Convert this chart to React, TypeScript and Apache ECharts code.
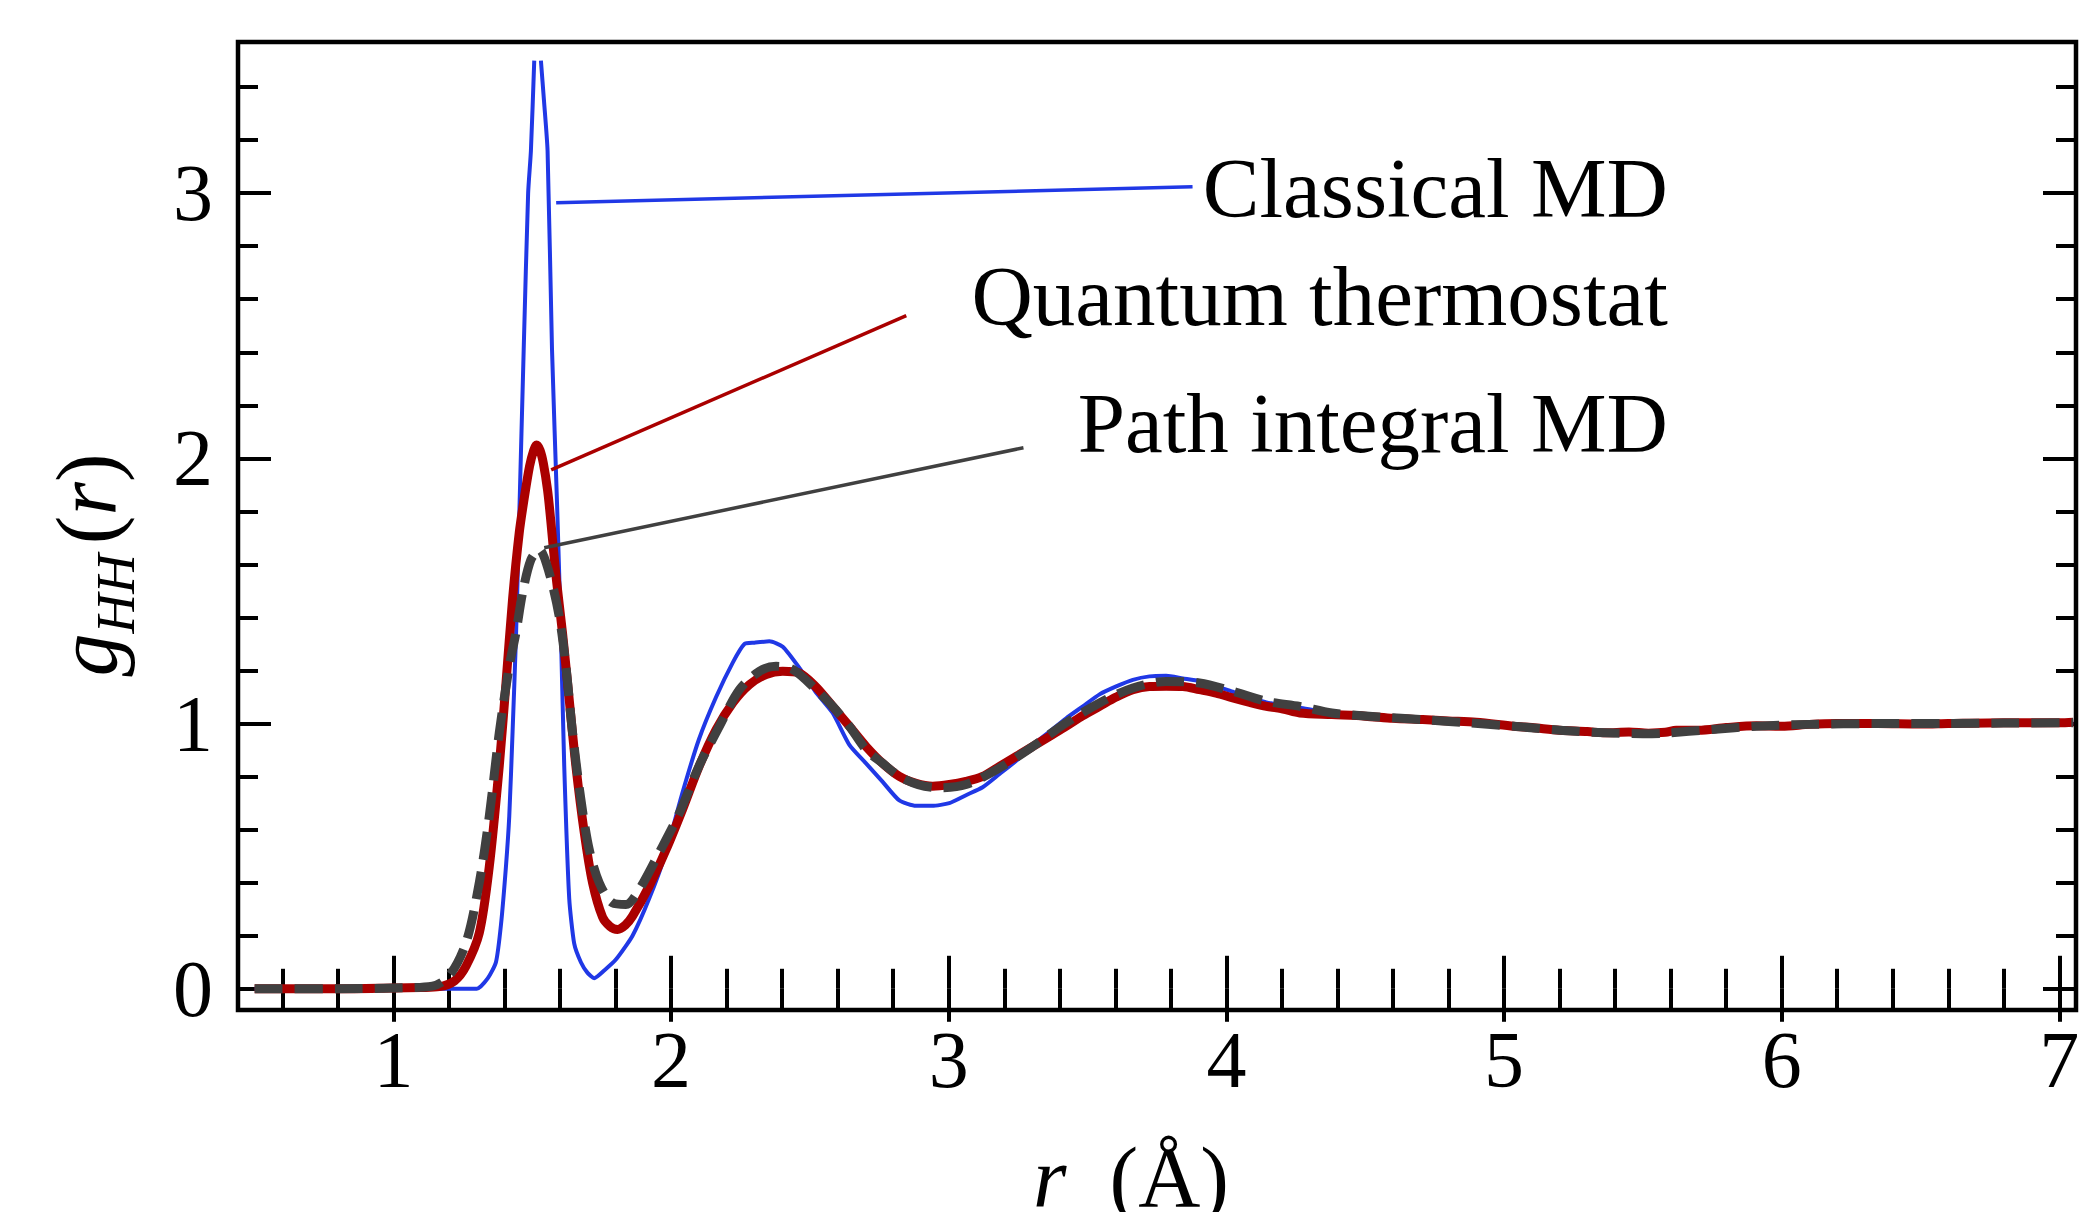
import React, { useEffect, useRef } from 'react';
import * as echarts from 'echarts';

// ---- axis ranges & ticks ----
const X_MIN = 0.44;
const X_MAX = 7.06;
const Y_MIN = -0.08;
const Y_MAX = 3.57;

const xMajorTicks = [1, 2, 3, 4, 5, 6, 7];
const xMinorTicks = [0.6, 0.8, 1.2, 1.4, 1.6, 1.8, 2.2, 2.4, 2.6, 2.8, 3.2, 3.4, 3.6, 3.8, 4.2, 4.4, 4.6, 4.8, 5.2, 5.4, 5.6, 5.8, 6.2, 6.4, 6.6, 6.8];
const yMajorTicks = [0, 1, 2, 3];
const yMinorTicks = [0.2, 0.4, 0.6, 0.8, 1.2, 1.4, 1.6, 1.8, 2.2, 2.4, 2.6, 2.8, 3.2, 3.4];

// ---- data: g_HH(r) ----
const classicalMD: ([number, number] | null)[] = [
  [0.5, 0], [0.8, 0], [1.0, 0], [1.2, 0], [1.3, 0.0], [1.34, 0.04], [1.369, 0.1], [1.387, 0.24],
  [1.405, 0.46], [1.417, 0.65], [1.429, 0.97], [1.441, 1.32], [1.453, 1.78], [1.469, 2.41],
  [1.485, 3.0], [1.495, 3.16], [1.507, 3.5], null, [1.531, 3.5], [1.542, 3.35], [1.555, 3.16],
  [1.571, 2.41], [1.59, 1.8], [1.603, 1.34], [1.615, 0.84], [1.633, 0.34], [1.651, 0.17],
  [1.675, 0.1], [1.699, 0.06], [1.723, 0.04], [1.76, 0.07], [1.801, 0.11], [1.861, 0.2],
  [1.921, 0.34], [1.98, 0.51], [2.041, 0.74], [2.1, 0.94], [2.162, 1.1], [2.222, 1.23],
  [2.264, 1.3], [2.3, 1.305], [2.354, 1.31], [2.402, 1.29], [2.462, 1.21], [2.52, 1.12],
  [2.582, 1.04], [2.642, 0.92], [2.702, 0.85], [2.762, 0.78], [2.822, 0.71], [2.882, 0.69],
  [2.94, 0.69], [3.002, 0.7], [3.062, 0.73], [3.122, 0.76], [3.183, 0.81], [3.243, 0.86],
  [3.303, 0.92], [3.363, 0.97], [3.423, 1.02], [3.483, 1.065], [3.543, 1.11], [3.603, 1.14],
  [3.663, 1.165], [3.723, 1.178], [3.783, 1.18], [3.843, 1.17], [3.903, 1.16], [4.023, 1.12],
  [4.144, 1.08], [4.264, 1.06], [4.38, 1.04], [4.5, 1.03], [4.707, 1.018], [4.9, 1.0],
  [5.035, 0.99], [5.2, 0.975], [5.363, 0.965], [5.581, 0.967], [5.75, 0.98], [5.909, 0.99],
  [6.1, 0.997], [6.346, 1.0], [6.6, 1.0], [6.8, 1.002], [7.05, 1.003],
];

const quantumThermostat: [number, number][] = [
  [0.5, 0.0], [0.8, 0.0], [1.0, 0.003], [1.1, 0.005], [1.165, 0.008], [1.22, 0.03], [1.261, 0.085],
  [1.309, 0.21], [1.345, 0.46], [1.381, 0.84], [1.405, 1.15], [1.429, 1.47], [1.453, 1.72],
  [1.471, 1.85], [1.49, 1.97], [1.505, 2.03], [1.515, 2.05], [1.528, 2.03], [1.54, 1.98],
  [1.555, 1.88], [1.567, 1.76], [1.585, 1.56], [1.609, 1.34], [1.633, 1.09], [1.657, 0.84],
  [1.687, 0.59], [1.717, 0.4], [1.753, 0.27], [1.78, 0.235], [1.807, 0.224], [1.835, 0.24],
  [1.861, 0.274], [1.921, 0.387], [1.982, 0.525], [2.041, 0.676], [2.101, 0.839], [2.162, 0.977],
  [2.222, 1.078], [2.282, 1.147], [2.342, 1.185], [2.402, 1.197], [2.462, 1.19], [2.52, 1.14],
  [2.582, 1.065], [2.642, 0.99], [2.702, 0.914], [2.762, 0.85], [2.822, 0.801], [2.882, 0.775],
  [2.942, 0.764], [3.002, 0.77], [3.062, 0.782], [3.12, 0.8], [3.183, 0.839], [3.243, 0.876],
  [3.303, 0.914], [3.363, 0.952], [3.423, 0.99], [3.483, 1.03], [3.543, 1.065], [3.603, 1.1],
  [3.663, 1.128], [3.723, 1.14], [3.783, 1.141], [3.843, 1.14], [3.903, 1.128], [3.963, 1.115],
  [4.023, 1.097], [4.084, 1.08], [4.144, 1.065], [4.204, 1.055], [4.264, 1.04], [4.38, 1.034],
  [4.5, 1.028], [4.6, 1.02], [4.707, 1.015], [4.8, 1.01], [4.9, 1.005], [5.035, 0.99],
  [5.1, 0.985], [5.2, 0.975], [5.3, 0.97], [5.363, 0.965], [5.45, 0.968], [5.52, 0.964],
  [5.581, 0.967], [5.62, 0.975], [5.7, 0.975], [5.8, 0.985], [5.909, 0.992], [6.0, 0.99],
  [6.1, 0.997], [6.2, 1.0], [6.346, 1.0], [6.5, 0.998], [6.6, 1.0], [6.8, 1.003], [7.0, 1.003],
  [7.05, 1.005],
];

const pathIntegralMD: [number, number][] = [
  [0.5, 0.0], [0.8, 0.0], [1.0, 0.003], [1.14, 0.01], [1.2, 0.048], [1.261, 0.173], [1.309, 0.4],
  [1.345, 0.65], [1.381, 0.965], [1.417, 1.216], [1.441, 1.342], [1.465, 1.493], [1.495, 1.618],
  [1.525, 1.656], [1.561, 1.568], [1.597, 1.404], [1.621, 1.216], [1.645, 0.965], [1.675, 0.714],
  [1.705, 0.525], [1.741, 0.4], [1.789, 0.324], [1.837, 0.318], [1.885, 0.374], [1.957, 0.513],
  [2.03, 0.663], [2.1, 0.839], [2.174, 0.99], [2.246, 1.128], [2.318, 1.197], [2.378, 1.216],
  [2.438, 1.204], [2.522, 1.128], [2.582, 1.065], [2.642, 0.99], [2.702, 0.902], [2.762, 0.85],
  [2.822, 0.801], [2.89, 0.77], [2.966, 0.758], [3.062, 0.77], [3.183, 0.833], [3.303, 0.914],
  [3.423, 1.003], [3.543, 1.078], [3.663, 1.134], [3.783, 1.159], [3.903, 1.153], [4.023, 1.122],
  [4.144, 1.084], [4.264, 1.065], [4.38, 1.04], [4.55, 1.025], [4.707, 1.015], [4.87, 1.003],
  [5.035, 0.99], [5.2, 0.975], [5.363, 0.965], [5.5, 0.962], [5.581, 0.964], [5.75, 0.978],
  [5.909, 0.99], [6.1, 0.997], [6.346, 1.0], [6.6, 1.0], [6.8, 1.002], [7.05, 1.003],
];

// ---- annotation leader lines (data coordinates) ----
const classicalLeader: [number, number][] = [[1.586, 2.964], [3.878, 3.024]];
const quantumLeader: [number, number][] = [[1.568, 1.957], [2.847, 2.538]];
const pathLeader: [number, number][] = [[1.543, 1.663], [3.269, 2.04]];

// ---- annotation labels ----
const annotationTexts = ['Classical MD', 'Quantum thermostat', 'Path integral MD'];
const annotationBaselines: [number, number][] = [[5.59, 2.911], [5.59, 2.504], [5.59, 2.027]];

const BLUE = '#2038e6';
const RED = '#aa0000';
const GRAY = '#404040';
const SERIF = "'Liberation Serif', 'Times New Roman', serif";
const LABEL_SIZE = 80;
const TEXT_SIZE = 85;

function tickAxis(kind: 'x' | 'y', position: string, values: number[], length: number, labels: boolean) {
  const isX = kind === 'x';
  return {
    type: 'value',
    gridIndex: 0,
    position,
    min: isX ? X_MIN : Y_MIN,
    max: isX ? X_MAX : Y_MAX,
    axisLine: { show: false },
    splitLine: { show: false },
    axisTick: {
      show: true,
      inside: true,
      length,
      customValues: values,
      lineStyle: { color: '#000', width: 4 },
    },
    axisLabel: labels
      ? {
          show: true,
          customValues: values,
          margin: isX ? 10 : 25,
          color: '#000',
          fontFamily: SERIF,
          fontSize: LABEL_SIZE,
          lineHeight: LABEL_SIZE,
          formatter: (v: number) => String(v),
        }
      : { show: false },
  };
}

export default function App() {
  const ref = useRef<HTMLDivElement>(null);

  useEffect(() => {
    if (!ref.current) return;
    const chart = echarts.init(ref.current, null, { renderer: 'svg' });

    const lineSeries = (name: string, data: any[], color: string, width: number, extra: any = {}, smooth: number | boolean = false) => ({
      type: 'line',
      name,
      data,
      xAxisIndex: 0,
      yAxisIndex: 0,
      showSymbol: false,
      symbol: 'none',
      connectNulls: false,
      smooth,
      silent: true,
      lineStyle: { color, width, cap: 'butt', join: 'round', ...extra },
      emphasis: { disabled: true },
    });

    chart.setOption({
      animation: false,
      backgroundColor: '#fff',
      grid: {
        left: 238,
        top: 42,
        width: 1838,
        height: 968,
        show: true,
        borderColor: '#000',
        borderWidth: 4.5,
        backgroundColor: 'transparent',
      },
      xAxis: [
        tickAxis('x', 'bottom', xMajorTicks, 33, true),
        tickAxis('x', 'bottom', xMinorTicks, 20, false),
        tickAxis('x', 'top', xMajorTicks, 33, false),
        tickAxis('x', 'top', xMinorTicks, 20, false),
      ],
      yAxis: [
        tickAxis('y', 'left', yMajorTicks, 33, true),
        tickAxis('y', 'left', yMinorTicks, 20, false),
        tickAxis('y', 'right', yMajorTicks, 33, false),
        tickAxis('y', 'right', yMinorTicks, 20, false),
      ],
      series: [
        lineSeries('Classical MD', classicalMD, BLUE, 4, {}, 0.2),
        lineSeries('Quantum thermostat', quantumThermostat, RED, 9, {}, 0.3),
        lineSeries('Path integral MD', pathIntegralMD, GRAY, 9, { type: [28, 12] }, 0.3),
        lineSeries('classical leader', classicalLeader, BLUE, 3.5),
        lineSeries('quantum leader', quantumLeader, RED, 3.5),
        lineSeries('path leader', pathLeader, GRAY, 3.5),
      ],
    });

    const centerOffset = 0.3375 * TEXT_SIZE;
    const annotations = annotationTexts.map((t, i) => {
      const p = chart.convertToPixel({ xAxisIndex: 0, yAxisIndex: 0 }, annotationBaselines[i]) as number[];
      return {
        type: 'text',
        x: p[0],
        y: p[1] - centerOffset,
        silent: true,
        style: {
          text: t,
          fill: '#000',
          fontFamily: SERIF,
          fontSize: TEXT_SIZE,
          align: 'right',
          verticalAlign: 'middle',
        },
      };
    });

    chart.setOption({
      graphic: [
        ...annotations,
        {
          type: 'text',
          x: 87,
          y: 565,
          rotation: Math.PI / 2,
          silent: true,
          style: {
            text: '{g|g}{s|HH}{sp| }{p|(}{r|r}{p|)}',
            align: 'center',
            verticalAlign: 'middle',
            fill: '#000',
            rich: {
              g: { fontFamily: SERIF, fontSize: 86, fontStyle: 'italic', lineHeight: 100, fill: '#000' },
              s: { fontFamily: SERIF, fontSize: 55, fontStyle: 'italic', lineHeight: 44, height: 44, verticalAlign: 'bottom', fill: '#000' },
              sp: { fontFamily: SERIF, fontSize: 40, lineHeight: 100, fill: '#000' },
              p: { fontFamily: SERIF, fontSize: 86, lineHeight: 100, fill: '#000' },
              r: { fontFamily: SERIF, fontSize: 86, fontStyle: 'italic', lineHeight: 100, fill: '#000' },
            },
          },
        },
        {
          type: 'text',
          x: 1131,
          y: 1207 - 0.3375 * 86,
          silent: true,
          style: {
            text: '{r|r}{n|  (Å)}',
            align: 'center',
            verticalAlign: 'middle',
            fill: '#000',
            rich: {
              r: { fontFamily: SERIF, fontSize: 86, fontStyle: 'italic', fill: '#000' },
              n: { fontFamily: SERIF, fontSize: 86, fill: '#000' },
            },
          },
        },
      ],
    });

    return () => chart.dispose();
  }, []);

  return (
    <div
      ref={ref}
      style={{ position: 'absolute', left: 0, top: 0, width: 2093, height: 1212, background: '#fff' }}
    />
  );
}
